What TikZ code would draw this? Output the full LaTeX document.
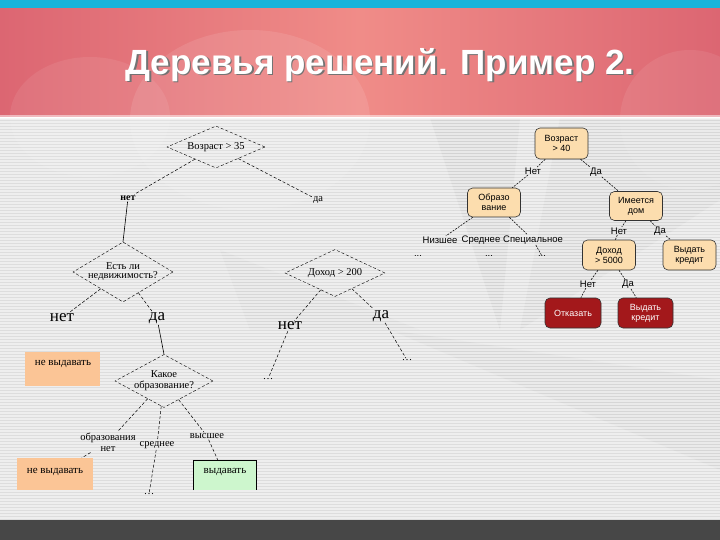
\documentclass[tikz,border=0pt]{standalone}
\usepackage{fontspec}
\setmainfont{Liberation Serif}
\newfontfamily\lsans{Liberation Sans}
\usetikzlibrary{shapes.geometric}
\definecolor{bandred}{HTML}{DC6672}
\definecolor{bandlight}{HTML}{F08C88}
\definecolor{topcyan}{HTML}{18B4DA}
\definecolor{bggray}{HTML}{DDDDDD}
\definecolor{botgray}{HTML}{474747}
\definecolor{ofill}{HTML}{FBC596}
\definecolor{gfill}{HTML}{CDF6CD}
\definecolor{rfill}{HTML}{FCDDAE}
\definecolor{dred}{HTML}{A3181B}
\newcommand\zc[1]{\makebox[0pt]{\renewcommand\arraystretch{0.85}\begin{tabular}{@{}c@{}}#1\end{tabular}}}
\begin{document}
\begin{tikzpicture}[x=1pt,y=-1pt,
  dia/.style={diamond, draw, dash pattern=on 3pt off 2pt, inner sep=0pt, aspect=2,
    font=\fontsize{10.5}{11}\selectfont},
  lbl/.style={inner sep=1pt, font=\fontsize{10.5}{11}\selectfont},
  bigl/.style={inner sep=1pt, font=\fontsize{17}{18}\selectfont},
  dl/.style={dash pattern=on 3pt off 2pt, line width=0.5pt},
  sl/.style={line width=0.6pt},
  obox/.style={fill=ofill, inner sep=0pt},
  btxt/.style={inner sep=0pt, font=\fontsize{11}{12}\selectfont},
  rbox/.style={draw=black!80, rounded corners=5pt, fill=rfill, minimum width=53pt,
    minimum height=31pt, font=\lsans\fontsize{9}{10}\selectfont, align=center,
    inner sep=1pt, line width=0.6pt},
  dbox/.style={rbox, fill=dred, text=white},
  rl/.style={inner sep=0.5pt, font=\lsans\fontsize{9.5}{10}\selectfont},
  rdl/.style={dash pattern=on 2pt off 1.2pt, line width=0.55pt},
  ttl/.style={font=\lsans\bfseries\fontsize{35}{37}\selectfont},
]
\useasboundingbox (0,0) rectangle (720,540);
% ---- background ----
\fill[bggray] (0,118) rectangle (720,520);
\fill[gray,opacity=0.10] (430,118) -- (520,118) -- (500,330) -- cycle;
\fill[gray,opacity=0.08] (560,118) -- (720,118) -- (720,200) -- (520,330) -- cycle;
\fill[gray,opacity=0.07] (390,330) -- (720,380) -- (720,470) -- cycle;
\fill[gray,opacity=0.06] (220,250) -- (420,330) -- (250,330) -- cycle;
\foreach \yy in {119,122,...,519} \draw[white,opacity=0.5,line width=1.1pt] (0,\yy) -- (720,\yy);
\fill[botgray] (0,520) rectangle (720,540);
% ---- title band ----
\shade[left color=bandred, right color=bandred, middle color=bandlight] (0,8) rectangle (720,117);
\fill[white,opacity=0.10] (250,120) ellipse (120 and 90);
\fill[white,opacity=0.08] (90,117) ellipse (80 and 60);
\fill[white,opacity=0.08] (690,120) ellipse (70 and 70);
\fill[topcyan] (0,0) rectangle (720,8);
\fill[white,opacity=0.5] (0,115) rectangle (720,119);
\node[ttl, text=black!55] at (381.5,66.5) {Деревья решений. Пример 2.};
\node[ttl, text=white] (title) at (380,65) {Деревья решений. Пример 2.};
% ---- left tree ----
\node[dia, minimum width=98pt, minimum height=42pt] (d1) at (216,147) {\zc{Возраст > 35}};
\node[lbl, font=\bfseries\fontsize{10}{11}\selectfont] (l1) at (128,198) {нет};
\node[lbl] (l2) at (318,200) {да};
\node[dia, minimum width=100pt, minimum height=60pt] (d2) at (123,272) {\zc{Есть ли\\недвижимость?}};
\node[dia, minimum width=100pt, minimum height=47pt] (d3) at (335,273) {\zc{Доход > 200}};
\node[bigl] (b1) at (62,318) {нет};
\node[bigl] (b2) at (157,318) {да};
\node[bigl] (b3) at (290,326) {нет};
\node[bigl] (b4) at (381,316) {да};
\node[lbl] (e1) at (268,379) {\dots};
\node[lbl] (e2) at (407,360) {\dots};
\node[dia, minimum width=98pt, minimum height=53pt] (d4) at (164,381) {\zc{Какое\\образование?}};
\node[lbl, align=center, font=\fontsize{10.5}{11}\selectfont] (l3) at (108,442) {образования\\нет};
\node[lbl] (l4) at (157,445) {среднее};
\node[lbl] (l5) at (207,436) {высшее};
\node[obox, minimum width=75pt, minimum height=34pt] (nb1) at (62.5,369) {};
\node[btxt] (nb1t) at (63,364) {не выдавать};
\node[obox, minimum width=76pt, minimum height=32pt] (nb2) at (55,474) {};
\node[btxt] (nb2t) at (55,472) {не выдавать};
\node[fill=gfill, minimum width=63pt, minimum height=30pt, inner sep=0pt] (vy) at (224.5,475) {};
\node[btxt] (vyt) at (225,472) {выдавать};
\draw[sl] (vy.south west) -- (vy.north west) -- (vy.north east) -- (vy.south east);
\node[lbl] (e3) at (149,494) {\dots};
% left edges
\draw[dl] (d1) -- (l1);
\draw[dl] (d1) -- (l2);
\draw[sl] (l1) -- (d2.north);
\draw[dl] (d2) -- (b1);
\draw[dl] (d2) -- (b2);
\draw[dl] (d3) -- (b3);
\draw[dl] (d3) -- (b4);
\draw[sl] (b2) -- (d4.north);
\draw[dl] (b3) -- (e1);
\draw[dl] (b4) -- (e2);
\draw[dl] (d4) -- (l3);
\draw[dl] (d4) -- (l4);
\draw[dl] (d4) -- (l5);
\draw[dl] (l3) -- (nb2);
\draw[dl] (l4) -- (e3);
\draw[dl] (l5) -- (vy);
% ---- right tree ----
\node[rbox] (r1) at (561.5,143.5) {Возраст\\> 40};
\node[rbox, minimum height=29pt] (r2) at (494,202.5) {Образо\\вание};
\node[rbox, minimum height=29pt] (r3) at (636,206) {Имеется\\дом};
\node[rbox, minimum height=30pt] (r4) at (609,255) {Доход\\> 5000};
\node[rbox, minimum height=30pt] (r5) at (689.5,255) {Выдать\\кредит};
\node[dbox, minimum width=56pt, minimum height=30pt] (r6) at (573,313) {Отказать};
\node[dbox, minimum width=55pt, minimum height=30pt] (r7) at (645.5,313) {Выдать\\кредит};
\node[rl] (n1) at (533,171) {Нет};
\node[rl] (y1) at (596,172) {Да};
\node[rl] (s1) at (440,240) {Низшее};
\node[rl] (s2) at (481,240) {Среднее};
\node[rl] (s3) at (533,240) {Специальное};
\node[rl] (t1) at (418,256) {...};
\node[rl] (t2) at (489,256) {...};
\node[rl] (t3) at (542,256) {...};
\node[rl] (n2) at (619,231) {Нет};
\node[rl] (y2) at (660,231) {Да};
\node[rl] (n3) at (588,284) {Нет};
\node[rl] (y3) at (628,284) {Да};
\draw[rdl] (r1) -- (n1) -- (r2);
\draw[rdl] (r1) -- (y1) -- (r3);
\draw[rdl] (r2) -- (s1);
\draw[rdl] (r2) -- (s3) -- (t3);
\draw[rdl] (r3) -- (n2) -- (r4);
\draw[rdl] (r3) -- (y2) -- (r5);
\draw[rdl] (r4) -- (n3) -- (r6);
\draw[rdl] (r4) -- (y3) -- (r7);
\end{tikzpicture}
\end{document}
